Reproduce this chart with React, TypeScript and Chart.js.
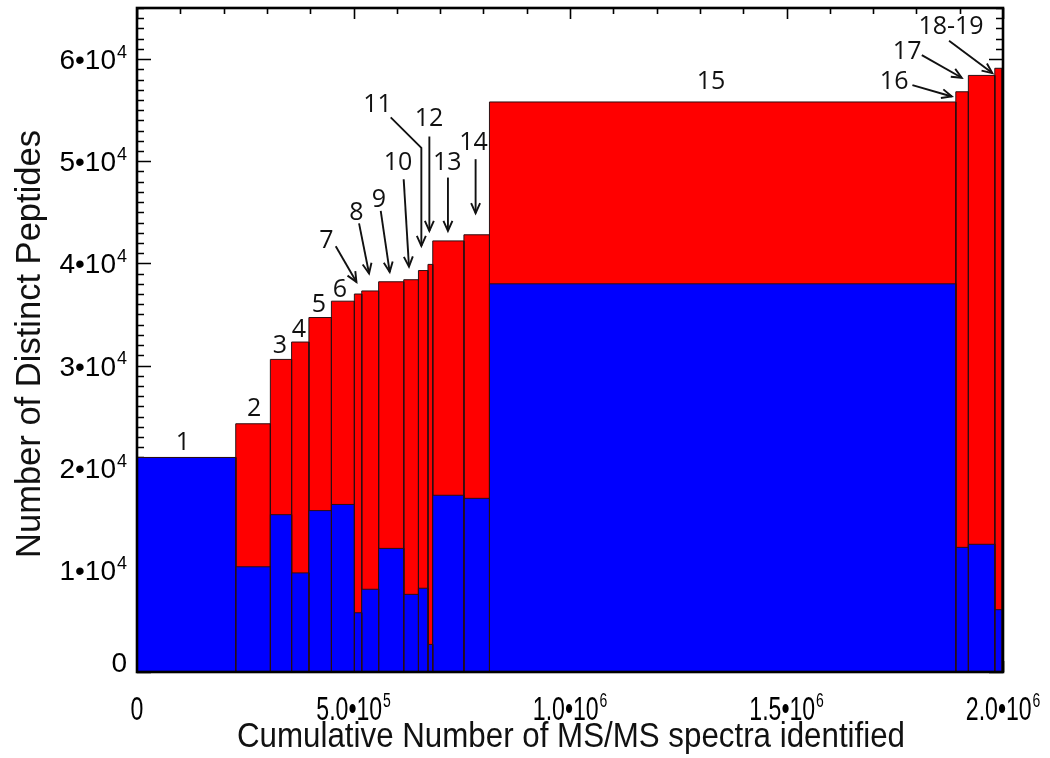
import React, { useEffect, useRef } from "react";
import { Chart, registerables } from "chart.js";

Chart.register(...registerables);

// ---- data ----
const datasetLabels = ["1", "2", "3", "4", "5", "6", "7", "8", "9", "10", "11", "12", "13", "14", "15", "16", "17", "18-19"];
const cumulativeSpectraEnd = [228000, 308000, 357000, 397000, 449000, 502000, 519000, 558000, 616000, 650000, 672000, 683000, 755000, 814000, 1891000, 1920000, 1981000, 1998000];
const cumulativePeptides = [21000, 24300, 30600, 32300, 34700, 36300, 37000, 37300, 38200, 38400, 39300, 39900, 42200, 42800, 55800, 56800, 58400, 59100];
const datasetPeptides = [21000, 10300, 15400, 9700, 15800, 16400, 5800, 8100, 12100, 7600, 8200, 2700, 17300, 17000, 38000, 12200, 12500, 6100];

const yTickValues = [0, 10000, 20000, 30000, 40000, 50000, 60000];
const yTickLabels = ["0", "1•10^4", "2•10^4", "3•10^4", "4•10^4", "5•10^4", "6•10^4"];
const xTickValues = [0, 500000, 1000000, 1500000, 2000000];
const xTickLabels = ["0", "5.0•10^5", "1.0•10^6", "1.5•10^6", "2.0•10^6"];

const xTitle = "Cumulative Number of MS/MS spectra identified";
const yTitle = "Number of Distinct Peptides";

// label annotations, in data units: label position and optional arrow path
type Ann = { text: string; at: [number, number]; arrow?: [number, number][] };
const annotations: Ann[] = [
  { text: "1", at: [106100, 22450] },
  { text: "2", at: [270600, 25750] },
  { text: "3", at: [329900, 31960] },
  { text: "4", at: [373700, 33530] },
  { text: "5", at: [419800, 35980] },
  { text: "6", at: [468300, 37450] },
  { text: "7", at: [437600, 42190], arrow: [[459000, 41670], [506800, 38170]] },
  { text: "8", at: [506800, 44970], arrow: [[512800, 43920], [535900, 39010]] },
  { text: "9", at: [558900, 46210], arrow: [[562900, 45130], [583600, 39150]] },
  { text: "10", at: [602800, 49870], arrow: [[615900, 48240], [628100, 39680]] },
  { text: "11", at: [555300, 55490], arrow: [[585900, 54290], [656700, 51300], [656700, 41700]] },
  { text: "12", at: [674300, 54190], arrow: [[675200, 52420], [675200, 43170]] },
  { text: "13", at: [716700, 49870], arrow: [[718100, 48400], [718100, 43170]] },
  { text: "14", at: [777400, 51770], arrow: [[782000, 50200], [782000, 44910]] },
  { text: "15", at: [1325700, 57720] },
  { text: "16", at: [1748600, 57750], arrow: [[1790800, 57450], [1881700, 56340]] },
  { text: "17", at: [1778600, 60690], arrow: [[1812500, 60390], [1904700, 58170]] },
  { text: "18-19", at: [1880000, 63140], arrow: [[1875400, 61790], [1975300, 58630]] },
];

const RED = "#ff0000";
const BLUE = "#0000ff";
const OUTLINE = "#2b0f12";
const SANS = '"Liberation Sans", Arial, sans-serif';
const NOTE_FONT = '"Open Sans", "Noto Sans", sans-serif';

function rectPoints(x0: number, x1: number, h: number) {
  return [
    { x: x0, y: 0 },
    { x: x0, y: h },
    { x: x1, y: h },
    { x: x1, y: 0 },
  ];
}

// draws "mantissa^exponent" with a raised exponent; sx = horizontal condensing
function drawSupLabel(
  ctx: CanvasRenderingContext2D,
  label: string,
  x: number,
  yCenter: number,
  align: "right" | "center",
  size: number,
  supSize: number,
  sx: number
) {
  const [base, exp] = label.split("^");
  ctx.font = `${size}px ${SANS}`;
  const wb = ctx.measureText(base).width;
  let we = 0;
  if (exp) {
    ctx.font = `${supSize}px ${SANS}`;
    we = ctx.measureText(exp).width + 1;
  }
  const total = (wb + we) * sx;
  const left = align === "right" ? x - total : x - total / 2;
  const baseline = yCenter + size * 0.358;
  ctx.save();
  ctx.translate(left, 0);
  ctx.scale(sx, 1);
  ctx.textAlign = "left";
  ctx.textBaseline = "alphabetic";
  ctx.font = `${size}px ${SANS}`;
  ctx.fillText(base, 0, baseline);
  if (exp) {
    ctx.font = `${supSize}px ${SANS}`;
    const digitTop = yCenter - size * 0.358;
    const expBaseline = digitTop - 4 + supSize * 0.716;
    ctx.fillText(exp, wb + 1, expBaseline);
  }
  ctx.restore();
}

function drawFittedText(
  ctx: CanvasRenderingContext2D,
  text: string,
  cx: number,
  cy: number,
  size: number,
  targetWidth: number,
  rotate: boolean
) {
  ctx.save();
  ctx.font = `${size}px ${SANS}`;
  const w = ctx.measureText(text).width;
  ctx.translate(cx, cy);
  if (rotate) ctx.rotate(-Math.PI / 2);
  ctx.scale(targetWidth / w, 1);
  ctx.textAlign = "center";
  ctx.textBaseline = "middle";
  ctx.fillText(text, 0, 0);
  ctx.restore();
}

const axesPlugin = {
  id: "idlAxes",
  beforeDatasetsDraw(chart: any) {
    const { ctx, chartArea: a, scales } = chart;
    const xs = scales.x;
    const ys = scales.y;
    ctx.save();
    ctx.strokeStyle = "#000";
    ctx.lineWidth = 1.6;
    ctx.beginPath();
    for (let v = 0; v <= ys.max + 1; v += 1000) {
      const py = Math.round(ys.getPixelForValue(v)) + 0.5;
      const L = v % 10000 === 0 ? 14 : 7;
      ctx.moveTo(a.left, py);
      ctx.lineTo(a.left + L, py);
      ctx.moveTo(a.right, py);
      ctx.lineTo(a.right - L, py);
    }
    for (let v = 0; v <= xs.max + 1; v += 100000) {
      const px = Math.round(xs.getPixelForValue(v)) + 0.5;
      const L = v % 500000 === 0 ? 11 : 6;
      ctx.moveTo(px, a.top);
      ctx.lineTo(px, a.top + L);
      ctx.moveTo(px, a.bottom);
      ctx.lineTo(px, a.bottom - L);
    }
    ctx.stroke();
    ctx.restore();
  },
  afterDatasetsDraw(chart: any) {
    const { ctx, chartArea: a } = chart;
    ctx.save();
    ctx.strokeStyle = "#000";
    ctx.lineWidth = 2.6;
    ctx.strokeRect(a.left, a.top, a.right - a.left, a.bottom - a.top);
    ctx.restore();
  },
  afterDraw(chart: any) {
    const { ctx, chartArea: a, scales } = chart;
    const xs = scales.x;
    const ys = scales.y;
    ctx.save();
    ctx.fillStyle = "#000";
    // y tick labels
    yTickValues.forEach((v, i) => {
      let py = ys.getPixelForValue(v);
      const half = 28 * 0.358;
      if (py + half > a.bottom) py = a.bottom - half;
      drawSupLabel(ctx, yTickLabels[i], a.left - 10, py, "right", 28, 18, 1);
    });
    // x tick labels
    xTickValues.forEach((v, i) => {
      const px = xs.getPixelForValue(v);
      drawSupLabel(ctx, xTickLabels[i], px, a.bottom + 36, "center", 33, 20, 0.7);
    });
    // axis titles
    ctx.fillStyle = "#111";
    drawFittedText(ctx, xTitle, (a.left + a.right) / 2 + 1, a.bottom + 65, 35, 668, false);
    drawFittedText(ctx, yTitle, a.left - 107, (a.top + a.bottom) / 2 + 4, 35, 428, true);
    // annotations
    ctx.strokeStyle = "#111";
    ctx.lineWidth = 1.9;
    ctx.font = `25px ${NOTE_FONT}`;
    ctx.textAlign = "center";
    ctx.textBaseline = "middle";
    annotations.forEach((an) => {
      const lx = xs.getPixelForValue(an.at[0]);
      const ly = ys.getPixelForValue(an.at[1]);
      ctx.fillText(an.text, lx, ly);
      if (an.arrow) {
        const pts = an.arrow.map(([vx, vy]) => [xs.getPixelForValue(vx), ys.getPixelForValue(vy)]);
        ctx.beginPath();
        ctx.moveTo(pts[0][0], pts[0][1]);
        for (let k = 1; k < pts.length; k++) ctx.lineTo(pts[k][0], pts[k][1]);
        ctx.stroke();
        const [tx, ty] = pts[pts.length - 1];
        const [sx, sy] = pts[pts.length - 2];
        const ang = Math.atan2(ty - sy, tx - sx);
        const hl = 11;
        const spread = 0.42;
        ctx.beginPath();
        ctx.moveTo(tx - hl * Math.cos(ang - spread), ty - hl * Math.sin(ang - spread));
        ctx.lineTo(tx, ty);
        ctx.lineTo(tx - hl * Math.cos(ang + spread), ty - hl * Math.sin(ang + spread));
        ctx.stroke();
      }
    });
    ctx.restore();
  },
};

export default function App() {
  const canvasRef = useRef<HTMLCanvasElement | null>(null);

  useEffect(() => {
    if (!canvasRef.current) return;
    const datasets: any[] = [];
    datasetLabels.forEach((lab, i) => {
      const x0 = i === 0 ? 0 : cumulativeSpectraEnd[i - 1];
      const x1 = cumulativeSpectraEnd[i];
      datasets.push({
        label: `${lab} cumulative`,
        data: rectPoints(x0, x1, cumulativePeptides[i]),
        backgroundColor: RED,
        borderColor: OUTLINE,
        borderWidth: 1,
        fill: "origin",
        showLine: true,
        pointRadius: 0,
        tension: 0,
        order: 2,
      });
      datasets.push({
        label: `${lab} dataset`,
        data: rectPoints(x0, x1, datasetPeptides[i]),
        backgroundColor: BLUE,
        borderColor: OUTLINE,
        borderWidth: 1,
        fill: "origin",
        showLine: true,
        pointRadius: 0,
        tension: 0,
        order: 1,
      });
    });

    const chart = new Chart(canvasRef.current, {
      type: "scatter",
      data: { datasets },
      options: {
        animation: false,
        responsive: true,
        maintainAspectRatio: false,
        layout: { padding: { top: 8, right: 47, left: 0, bottom: 0 } },
        plugins: { legend: { display: false }, tooltip: { enabled: false } },
        events: [],
        scales: {
          x: {
            type: "linear",
            min: 0,
            max: 2000000,
            grid: { display: false, drawTicks: false },
            border: { display: false },
            ticks: { display: false },
            title: { display: false, text: xTitle },
            afterFit(s: any) {
              s.height = 86;
            },
          },
          y: {
            type: "linear",
            min: 0,
            max: 65000,
            grid: { display: false, drawTicks: false },
            border: { display: false },
            ticks: { display: false },
            title: { display: false, text: yTitle },
            afterFit(s: any) {
              s.width = 137;
            },
          },
        },
      } as any,
      plugins: [axesPlugin],
    });
    return () => chart.destroy();
  }, []);

  return (
    <div style={{ position: "fixed", left: 0, top: 0, width: 1050, height: 758, background: "#fff" }}>
      <canvas ref={canvasRef} />
    </div>
  );
}
